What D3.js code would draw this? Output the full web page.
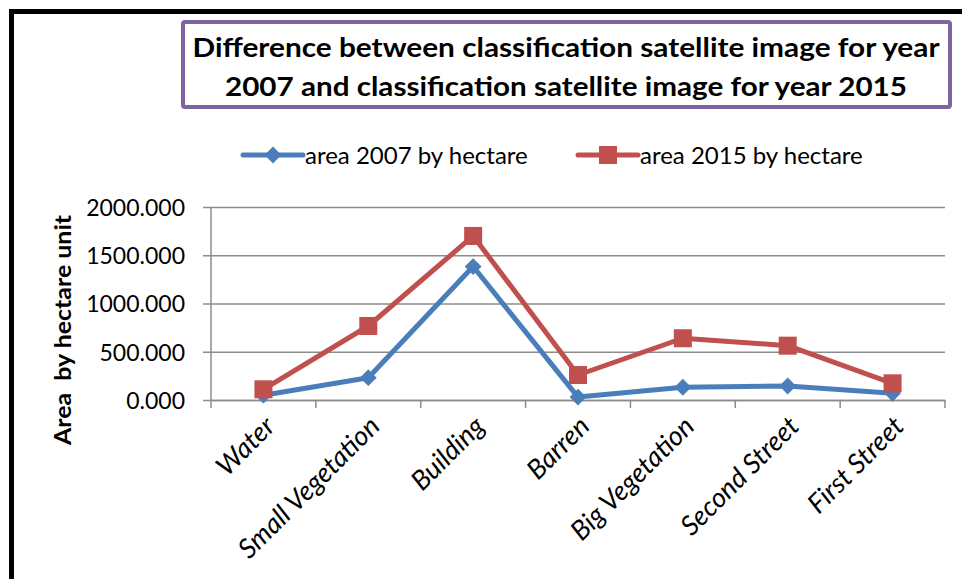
<!DOCTYPE html>
<html lang="en">
<head>
  <meta charset="UTF-8">
  <title>Difference between classification satellite images</title>
  <script src="https://d3js.org/d3.v7.min.js"></script>
  <style>
    body {
      margin: 0;
      font-family: Lato, "Open Sans", sans-serif;
      background: #fff;
    }

    .grid line {
      stroke: #8c8c8c;
      stroke-width: 1.5;
    }

    .axis path, .axis line {
      stroke: #8c8c8c;
      stroke-width: 1.5;
    }

    .tick-label {
      font-size: 23px;
      fill: #000;
    }

    .series-line {
      fill: none;
      stroke-width: 5;
      stroke-linejoin: round;
    }
  </style>
</head>
<body>

<script>
  // Data
  var categories = ["Water", "Small Vegetation", "Building", "Barren",
                    "Big Vegetation", "Second Street", "First Street"];
  var area2007 = [50, 231, 1383, 30, 132, 145, 69];
  var area2015 = [111, 767, 1700, 259, 640, 563, 173];
  var seriesNames = ["area 2007 by hectare", "area 2015 by hectare"];
  var yTicks = [0, 500, 1000, 1500, 2000];

  var blue = "#4a7ebb", red = "#c0504d";

  var W = 962, H = 579;
  var plotLeft = 211, plotRight = 945, plotTop = 207, plotBottom = 400;

  var svg = d3.select("body")
              .append("svg")
              .attr("width", W)
              .attr("height", H);

  // Outer frame (only left and top edges visible)
  svg.append("path")
     .attr("d", "M11.5," + H + " V11.5 H" + W)
     .attr("fill", "none")
     .attr("stroke", "#000")
     .attr("stroke-width", 5);

  // Title box
  svg.append("rect")
     .attr("x", 183)
     .attr("y", 22)
     .attr("width", 767)
     .attr("height", 85)
     .attr("rx", 2)
     .attr("fill", "#fff")
     .attr("stroke", "#8064a2")
     .attr("stroke-width", 4);

  var titleLines = ["Difference between classification satellite image for year",
                    "2007 and classification satellite image for year 2015"];
  var titleWidths = [747, 682];
  svg.selectAll(".title")
     .data(titleLines)
     .enter()
     .append("text")
     .attr("class", "title")
     .attr("x", 566)
     .attr("y", (d, i) => 57 + i * 39)
     .attr("text-anchor", "middle")
     .attr("font-size", 26)
     .attr("font-weight", "bold")
     .attr("textLength", (d, i) => titleWidths[i])
     .attr("lengthAdjust", "spacingAndGlyphs")
     .text(d => d);

  // Scales
  var xScale = d3.scaleBand()
                 .domain(categories)
                 .range([plotLeft, plotRight])
                 .padding(0);

  var yScale = d3.scaleLinear()
                 .domain([0, 2000])
                 .range([plotBottom, plotTop]);

  var xc = d => xScale(d) + xScale.bandwidth() / 2;

  // Gridlines + left axis
  var yAxis = svg.append("g")
     .attr("class", "axis grid")
     .attr("transform", `translate(${plotLeft},0)`)
     .call(d3.axisLeft(yScale)
             .tickValues(yTicks)
             .tickSize(-(plotRight - plotLeft))
             .tickSizeOuter(0)
             .tickFormat(d3.format(".3f")));
  yAxis.select(".domain").remove();
  yAxis.selectAll(".tick line").attr("x1", -8);
  yAxis.selectAll(".tick text")
       .attr("class", "tick-label")
       .attr("x", -26)
       .attr("dy", "0.36em")
       .style("font-family", "Lato, sans-serif");

  svg.append("line")
     .attr("x1", plotLeft).attr("x2", plotLeft)
     .attr("y1", plotTop).attr("y2", plotBottom)
     .attr("stroke", "#8c8c8c")
     .attr("stroke-width", 1.5);

  // Bottom axis
  var xAxis = svg.append("g")
     .attr("class", "axis")
     .attr("transform", `translate(0,${plotBottom})`)
     .call(d3.axisBottom(xScale).tickSize(0).tickSizeOuter(0));
  xAxis.selectAll(".tick text").remove();

  // Ticks on category boundaries
  var bounds = categories.map(c => xScale(c)).concat([plotRight]);
  svg.selectAll(".xtick")
     .data(bounds)
     .enter()
     .append("line")
     .attr("x1", d => d).attr("x2", d => d)
     .attr("y1", plotBottom).attr("y2", plotBottom + 8)
     .attr("stroke", "#8c8c8c")
     .attr("stroke-width", 1.5);

  // Rotated category labels
  svg.selectAll(".xlab")
     .data(categories)
     .enter()
     .append("text")
     .attr("class", "tick-label")
     .style("font-size", "27px")
     .attr("text-anchor", "end")
     .attr("font-style", "italic")
     .attr("transform", d => `translate(${xc(d) + 13},${plotBottom + 28}) rotate(-45)`)
     .text(d => d);

  // Y axis title
  svg.append("text")
     .attr("transform", "rotate(-90)")
     .attr("x", -330)
     .attr("y", 71)
     .attr("text-anchor", "middle")
     .attr("font-size", 22)
     .attr("font-weight", "bold")
     .attr("textLength", 230)
     .attr("lengthAdjust", "spacingAndGlyphs")
     .style("white-space", "pre")
     .text("Area  by hectare unit");

  // Lines
  var lineGen = d3.line()
                  .x((d, i) => xc(categories[i]))
                  .y(d => yScale(d));

  svg.append("path")
     .datum(area2007)
     .attr("class", "series-line")
     .attr("stroke", blue)
     .attr("d", lineGen);

  svg.append("path")
     .datum(area2015)
     .attr("class", "series-line")
     .attr("stroke", red)
     .attr("d", lineGen);

  // Markers
  var diamond = d3.symbol().type(d3.symbolDiamond2).size(180);
  svg.selectAll(".m2007")
     .data(area2007)
     .enter()
     .append("path")
     .attr("d", diamond)
     .attr("transform", (d, i) => `translate(${xc(categories[i])},${yScale(d)})`)
     .attr("fill", blue);

  svg.selectAll(".m2015")
     .data(area2015)
     .enter()
     .append("rect")
     .attr("x", (d, i) => xc(categories[i]) - 9)
     .attr("y", d => yScale(d) - 9)
     .attr("width", 18)
     .attr("height", 18)
     .attr("fill", red);

  // Legend
  var legend = [
    { name: seriesNames[0], color: blue, x: 243, type: "diamond" },
    { name: seriesNames[1], color: red, x: 578, type: "square" }
  ];
  var lg = svg.selectAll(".legend")
     .data(legend)
     .enter()
     .append("g")
     .attr("transform", d => `translate(${d.x},155)`);

  lg.append("line")
    .attr("x1", 0).attr("x2", 60)
    .attr("stroke", d => d.color)
    .attr("stroke-width", 5)
    .attr("stroke-linecap", "round");

  lg.filter(d => d.type === "diamond")
    .append("path")
    .attr("d", diamond)
    .attr("transform", "translate(30,0)")
    .attr("fill", d => d.color);

  lg.filter(d => d.type === "square")
    .append("rect")
    .attr("x", 21).attr("y", -9)
    .attr("width", 18).attr("height", 18)
    .attr("fill", d => d.color);

  lg.append("text")
    .attr("x", 62)
    .attr("dy", "0.36em")
    .attr("font-size", 24)
    .text(d => d.name);
</script>

</body>
</html>
